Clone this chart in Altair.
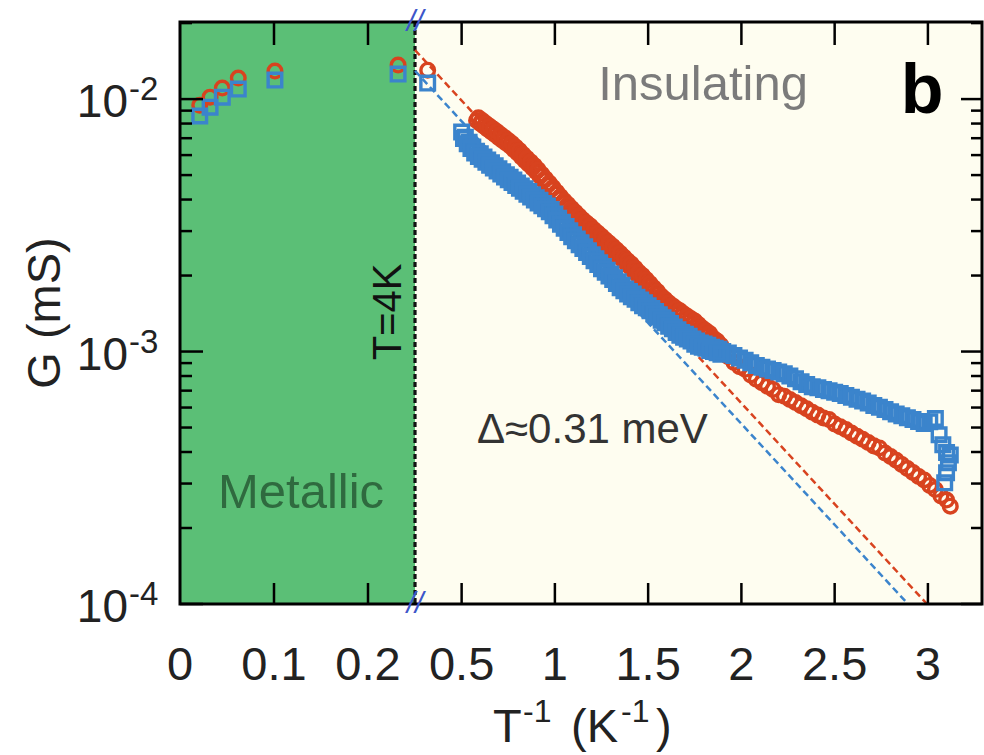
import altair as alt
import pandas as pd

# ---------------- data ----------------
# metallic regime (T > 4 K)
metal_x = [0.021, 0.032, 0.045, 0.062, 0.101, 0.232]
metal_red = [9.46e-3, 1.018e-2, 1.106e-2, 1.211e-2, 1.291e-2, 1.364e-2]
metal_blue = [8.57e-3, 9.29e-3, 1.018e-2, 1.096e-2, 1.189e-2, 1.256e-2]

# insulating regime, sample 1 (red circles), first sweep
red_x = [0.318,
         0.58, 0.60, 0.62, 0.64, 0.66, 0.68, 0.70, 0.72, 0.74, 0.76,
         0.78, 0.80, 0.82, 0.84, 0.86, 0.88, 0.90, 0.92, 0.94, 0.96,
         0.98, 1.00, 1.02, 1.04, 1.06, 1.08, 1.10, 1.12, 1.14, 1.16,
         1.18, 1.20, 1.22, 1.24, 1.26, 1.28, 1.30, 1.32, 1.34, 1.36,
         1.38, 1.40, 1.42, 1.44, 1.46, 1.48, 1.50, 1.52, 1.54, 1.56,
         1.58, 1.60, 1.62, 1.64, 1.66, 1.68, 1.70, 1.72, 1.74, 1.76,
         1.78, 1.80, 1.82, 1.84, 1.86, 1.88, 1.90,
         1.93, 1.96, 1.99, 2.02, 2.05, 2.08, 2.11, 2.14, 2.17, 2.20,
         2.23, 2.26, 2.29, 2.32, 2.35, 2.38, 2.41, 2.44, 2.47, 2.50,
         2.53, 2.56, 2.59, 2.62, 2.65, 2.68, 2.71, 2.74, 2.77, 2.80,
         2.83, 2.86, 2.89, 2.92, 2.95, 2.98, 3.01, 3.04, 3.07, 3.10, 3.12]
red_g = [1.302e-2,
         8.22e-3, 8.00e-3, 7.80e-3, 7.60e-3, 7.41e-3, 7.23e-3, 7.03e-3, 6.85e-3, 6.68e-3, 6.52e-3,
         6.31e-3, 6.11e-3, 5.90e-3, 5.70e-3, 5.52e-3, 5.33e-3, 5.15e-3, 4.95e-3, 4.75e-3, 4.56e-3,
         4.38e-3, 4.20e-3, 4.03e-3, 3.88e-3, 3.74e-3, 3.61e-3, 3.48e-3, 3.36e-3, 3.25e-3, 3.16e-3,
         3.06e-3, 2.97e-3, 2.88e-3, 2.79e-3, 2.71e-3, 2.62e-3, 2.55e-3, 2.47e-3, 2.39e-3, 2.32e-3,
         2.24e-3, 2.17e-3, 2.09e-3, 2.02e-3, 1.95e-3, 1.89e-3, 1.82e-3, 1.75e-3, 1.69e-3, 1.63e-3,
         1.57e-3, 1.52e-3, 1.48e-3, 1.44e-3, 1.41e-3, 1.38e-3, 1.34e-3, 1.31e-3, 1.28e-3, 1.25e-3,
         1.21e-3, 1.18e-3, 1.15e-3, 1.11e-3, 1.07e-3, 1.04e-3, 1.00e-3,
         9.53e-4, 9.06e-4, 8.71e-4, 8.50e-4, 8.07e-4, 7.76e-4, 7.52e-4, 7.29e-4, 7.08e-4, 6.75e-4,
         6.65e-4, 6.46e-4, 6.28e-4, 6.10e-4, 5.93e-4, 5.75e-4, 5.60e-4, 5.45e-4, 5.38e-4, 5.16e-4,
         5.04e-4, 4.91e-4, 4.76e-4, 4.62e-4, 4.49e-4, 4.36e-4, 4.23e-4, 4.15e-4, 3.96e-4, 3.84e-4,
         3.71e-4, 3.57e-4, 3.44e-4, 3.32e-4, 3.20e-4, 3.10e-4, 2.95e-4, 2.84e-4, 2.68e-4, 2.58e-4, 2.44e-4]

# sample 1, second sweep (upper edge of the dense band)
red2_x = [0.59, 0.61, 0.63, 0.65, 0.67, 0.69, 0.71, 0.73, 0.75, 0.77,
          0.79, 0.81, 0.83, 0.85, 0.87, 0.89, 0.91, 0.93, 0.95, 0.97,
          0.99, 1.01, 1.03, 1.05, 1.07, 1.09, 1.11, 1.13, 1.15, 1.17,
          1.19, 1.21, 1.23, 1.25, 1.27, 1.29, 1.31, 1.33, 1.35, 1.37,
          1.39, 1.41, 1.43, 1.45, 1.47, 1.49, 1.51, 1.53, 1.55, 1.57,
          1.59, 1.61, 1.63, 1.65, 1.67, 1.69, 1.71, 1.73, 1.75, 1.77,
          1.79, 1.81, 1.83, 1.85, 1.87, 1.89]
red2_g = [8.43e-3, 8.22e-3, 8.01e-3, 7.81e-3, 7.61e-3, 7.42e-3, 7.22e-3, 7.04e-3, 6.86e-3, 6.67e-3,
          6.46e-3, 6.25e-3, 6.03e-3, 5.83e-3, 5.64e-3, 5.45e-3, 5.25e-3, 5.04e-3, 4.84e-3, 4.65e-3,
          4.46e-3, 4.28e-3, 4.11e-3, 3.96e-3, 3.82e-3, 3.69e-3, 3.56e-3, 3.44e-3, 3.33e-3, 3.23e-3,
          3.14e-3, 3.04e-3, 2.95e-3, 2.86e-3, 2.77e-3, 2.69e-3, 2.61e-3, 2.53e-3, 2.45e-3, 2.37e-3,
          2.29e-3, 2.22e-3, 2.14e-3, 2.06e-3, 2.00e-3, 1.93e-3, 1.86e-3, 1.79e-3, 1.73e-3, 1.66e-3,
          1.61e-3, 1.56e-3, 1.52e-3, 1.48e-3, 1.45e-3, 1.41e-3, 1.38e-3, 1.35e-3, 1.32e-3, 1.28e-3,
          1.24e-3, 1.21e-3, 1.18e-3, 1.13e-3, 1.10e-3, 1.06e-3]

# insulating regime, sample 2 (blue squares), first sweep
blue_x = [0.318,
          0.50, 0.52, 0.54, 0.56, 0.58, 0.60, 0.62, 0.64, 0.66, 0.68,
          0.70, 0.72, 0.74, 0.76, 0.78, 0.80, 0.82, 0.84, 0.86, 0.88,
          0.90, 0.92, 0.94, 0.96, 0.98, 1.00, 1.02, 1.04, 1.06, 1.08,
          1.10, 1.12, 1.14, 1.16, 1.18, 1.20, 1.22, 1.24, 1.26, 1.28,
          1.30, 1.32, 1.34, 1.36, 1.38, 1.40, 1.42, 1.44, 1.46, 1.48,
          1.50, 1.52, 1.54, 1.56, 1.58, 1.60, 1.62, 1.64, 1.66, 1.68,
          1.70, 1.72, 1.74, 1.76, 1.78, 1.80, 1.82, 1.84, 1.86, 1.88, 1.90,
          1.93, 1.96, 1.99, 2.02, 2.05, 2.08, 2.11, 2.14, 2.17, 2.20,
          2.23, 2.26, 2.29, 2.32, 2.35, 2.38, 2.41, 2.44, 2.47, 2.50,
          2.53, 2.56, 2.59, 2.62, 2.65, 2.68, 2.71, 2.74, 2.77, 2.80,
          2.83, 2.86, 2.89, 2.92, 2.95, 2.98, 3.01, 3.04,
          3.06, 3.08, 3.10, 3.12, 3.11, 3.10, 3.09]
blue_g = [1.157e-2,
          7.40e-3, 7.06e-3, 6.75e-3, 6.46e-3, 6.22e-3, 6.07e-3, 5.90e-3, 5.74e-3, 5.60e-3, 5.45e-3,
          5.30e-3, 5.16e-3, 5.02e-3, 4.90e-3, 4.78e-3, 4.65e-3, 4.53e-3, 4.41e-3, 4.30e-3, 4.18e-3,
          4.07e-3, 3.97e-3, 3.86e-3, 3.77e-3, 3.65e-3, 3.51e-3, 3.37e-3, 3.25e-3, 3.13e-3, 3.01e-3,
          2.90e-3, 2.79e-3, 2.70e-3, 2.60e-3, 2.51e-3, 2.42e-3, 2.33e-3, 2.25e-3, 2.17e-3, 2.10e-3,
          2.03e-3, 1.96e-3, 1.89e-3, 1.83e-3, 1.77e-3, 1.73e-3, 1.69e-3, 1.64e-3, 1.60e-3, 1.56e-3,
          1.52e-3, 1.48e-3, 1.44e-3, 1.40e-3, 1.36e-3, 1.33e-3, 1.29e-3, 1.25e-3, 1.22e-3, 1.19e-3,
          1.17e-3, 1.15e-3, 1.12e-3, 1.10e-3, 1.08e-3, 1.07e-3, 1.06e-3, 1.04e-3, 1.03e-3, 1.02e-3, 1.00e-3,
          9.86e-4, 9.64e-4, 9.42e-4, 9.23e-4, 9.02e-4, 8.81e-4, 8.67e-4, 8.53e-4, 8.41e-4, 8.30e-4,
          8.17e-4, 8.00e-4, 7.80e-4, 7.60e-4, 7.41e-4, 7.26e-4, 7.18e-4, 7.08e-4, 7.00e-4, 6.90e-4,
          6.82e-4, 6.70e-4, 6.59e-4, 6.47e-4, 6.37e-4, 6.25e-4, 6.12e-4, 6.01e-4, 5.89e-4, 5.78e-4,
          5.66e-4, 5.57e-4, 5.47e-4, 5.38e-4, 5.28e-4, 5.19e-4, 5.27e-4, 5.43e-4,
          4.68e-4, 4.27e-4, 3.98e-4, 3.89e-4, 3.63e-4, 3.31e-4, 3.02e-4]

# sample 2, second sweep (lower edge of the dense band)
blue2_x = [0.51, 0.53, 0.55, 0.57, 0.59, 0.61, 0.63, 0.65, 0.67, 0.69,
           0.71, 0.73, 0.75, 0.77, 0.79, 0.81, 0.83, 0.85, 0.87, 0.89,
           0.91, 0.93, 0.95, 0.97, 0.99, 1.01, 1.03, 1.05, 1.07, 1.09,
           1.11, 1.13, 1.15, 1.17, 1.19, 1.21, 1.23, 1.25, 1.27, 1.29,
           1.31, 1.33, 1.35, 1.37, 1.39, 1.41, 1.43, 1.45, 1.47, 1.49,
           1.51, 1.53, 1.55, 1.57, 1.59, 1.61, 1.63, 1.65, 1.67, 1.69,
           1.71, 1.73, 1.75, 1.77, 1.79, 1.81, 1.83, 1.85, 1.87, 1.89]
blue2_g = [6.98e-3, 6.66e-3, 6.37e-3, 6.12e-3, 5.93e-3, 5.78e-3, 5.62e-3, 5.47e-3, 5.33e-3, 5.19e-3,
           5.05e-3, 4.91e-3, 4.79e-3, 4.67e-3, 4.55e-3, 4.43e-3, 4.31e-3, 4.20e-3, 4.09e-3, 3.98e-3,
           3.88e-3, 3.78e-3, 3.68e-3, 3.58e-3, 3.45e-3, 3.32e-3, 3.19e-3, 3.08e-3, 2.96e-3, 2.85e-3,
           2.75e-3, 2.65e-3, 2.56e-3, 2.47e-3, 2.38e-3, 2.29e-3, 2.21e-3, 2.13e-3, 2.06e-3, 1.99e-3,
           1.93e-3, 1.86e-3, 1.79e-3, 1.74e-3, 1.69e-3, 1.65e-3, 1.61e-3, 1.56e-3, 1.52e-3, 1.49e-3,
           1.45e-3, 1.41e-3, 1.37e-3, 1.33e-3, 1.30e-3, 1.26e-3, 1.23e-3, 1.19e-3, 1.16e-3, 1.14e-3,
           1.12e-3, 1.10e-3, 1.07e-3, 1.05e-3, 1.04e-3, 1.03e-3, 1.01e-3, 1.00e-3, 9.90e-4, 9.75e-4]

# activated-transport fits (end points of the dashed lines)
fit_red_x = [0.25, 2.995]
fit_red_g = [1.563e-2, 1.0e-4]
fit_blue_x = [0.25, 2.893]
fit_blue_g = [1.294e-2, 1.0e-4]

# regime boundaries on the T^-1 axis
metal_span = [0.0, 0.25]
insul_span = [0.25, 3.29]

# axis ticks
x_ticks = [0.0, 0.1, 0.2, 0.5, 1.0, 1.5, 2.0, 2.5, 3.0]
x_tick_text = ["0", "0.1", "0.2", "0.5", "1", "1.5", "2", "2.5", "3"]
y_major = [1e-4, 1e-3, 1e-2]
y_major_exp = ["-4", "-3", "-2"]
y_minor = [2e-4, 3e-4, 4e-4, 5e-4, 6e-4, 7e-4, 8e-4, 9e-4,
           2e-3, 3e-3, 4e-3, 5e-3, 6e-3, 7e-3, 8e-3, 9e-3, 2e-2]

assert len(red_x) == len(red_g) and len(blue_x) == len(blue_g)
assert len(red2_x) == len(red2_g) and len(blue2_x) == len(blue2_g)

# ---------------- styling ----------------
W, H = 802, 582
FONT = "Liberation Sans"
RED = "#d8431f"
BLUE = "#3b84cc"
GREEN = "#5bbf76"
CREAM = "#fefdf0"
MARK_SIZE = 185
MARK_STROKE = 3.4

# broken x axis: 0-0.25 stretched, 0.25-3.29 compressed
xs = alt.Scale(domain=[0.0, 0.25, 3.29], range=[0, 235, W], nice=False, zero=False)
ys = alt.Scale(type="log", domain=[1e-4, 0.0202], nice=False)


def X(field="x"):
    return alt.X(f"{field}:Q", scale=xs, axis=None)


def Y(field="g"):
    return alt.Y(f"{field}:Q", scale=ys, axis=None)


def label(s, x, y, size, color="black", align="left", angle=0, weight="normal"):
    return alt.Chart(pd.DataFrame({"s": [s]})).mark_text(
        x=x, y=y, fontSize=size, font=FONT, color=color, align=align,
        baseline="alphabetic", angle=angle, fontWeight=weight
    ).encode(text="s:N")


def points(xv, gv, shape, color):
    return alt.Chart(pd.DataFrame({"x": xv, "g": gv})).mark_point(
        shape=shape, filled=False, color=color, size=MARK_SIZE,
        strokeWidth=MARK_STROKE, opacity=1).encode(x=X(), y=Y())


# ---------------- layers ----------------
bg_metal = alt.Chart(pd.DataFrame({"x": [metal_span[0]], "x2": [metal_span[1]]})).mark_rect(
    color=GREEN).encode(x=X(), x2="x2:Q", y=alt.value(0), y2=alt.value(H))
bg_insul = alt.Chart(pd.DataFrame({"x": [insul_span[0]], "x2": [insul_span[1]]})).mark_rect(
    color=CREAM).encode(x=X(), x2="x2:Q", y=alt.value(0), y2=alt.value(H))

boundary = alt.Chart(pd.DataFrame({"x": [metal_span[1]]})).mark_rule(
    color="#111111", strokeWidth=3.2, strokeDash=[5, 3]).encode(x=X(), y=alt.value(0), y2=alt.value(H))

fit_red = alt.Chart(pd.DataFrame({"x": fit_red_x, "g": fit_red_g})).mark_line(
    color=RED, strokeWidth=2.5, strokeDash=[7, 4]).encode(x=X(), y=Y())
fit_blue = alt.Chart(pd.DataFrame({"x": fit_blue_x, "g": fit_blue_g})).mark_line(
    color=BLUE, strokeWidth=2.5, strokeDash=[7, 4]).encode(x=X(), y=Y())

pts_red = points(metal_x + red_x, metal_red + red_g, "circle", RED)
pts_red2 = points(red2_x, red2_g, "circle", RED)
pts_blue = points(metal_x + blue_x, metal_blue + blue_g, "square", BLUE)
pts_blue2 = points(blue2_x, blue2_g, "square", BLUE)

# inward ticks on all four sides
xt = pd.DataFrame({"x": x_ticks[1:]})
ticks_bottom = alt.Chart(xt).mark_rule(color="black", strokeWidth=2.5).encode(
    x=X(), y=alt.value(H), y2=alt.value(H - 21))
ticks_top = alt.Chart(xt).mark_rule(color="black", strokeWidth=2.5).encode(
    x=X(), y=alt.value(0), y2=alt.value(23))
ym = pd.DataFrame({"g": y_major, "e": y_major_exp})
yn = pd.DataFrame({"g": y_minor})
ticks_left_major = alt.Chart(ym).mark_rule(color="black", strokeWidth=2.5).encode(
    y=Y(), x=alt.value(0), x2=alt.value(23))
ticks_left_minor = alt.Chart(yn).mark_rule(color="black", strokeWidth=2.5).encode(
    y=Y(), x=alt.value(0), x2=alt.value(12))
ticks_right_major = alt.Chart(ym).mark_rule(color="black", strokeWidth=2.5).encode(
    y=Y(), x=alt.value(W - 21), x2=alt.value(W))
ticks_right_minor = alt.Chart(yn).mark_rule(color="black", strokeWidth=2.5).encode(
    y=Y(), x=alt.value(W - 11), x2=alt.value(W))

frame = alt.Chart(pd.DataFrame({"a": [0]})).mark_rect(
    fillOpacity=0, stroke="black", strokeWidth=3).encode(
    x=alt.value(0), x2=alt.value(W), y=alt.value(0), y2=alt.value(H))

# axis-break marks
breaks = alt.Chart(pd.DataFrame({"x": [0.25, 0.25], "yp": [0, H], "s": ["//", "//"]})).mark_text(
    fontSize=30, font=FONT, color="#3d56c9", baseline="middle", align="center",
    fontStyle="italic").encode(
    x=X(), y=alt.Y("yp:Q", scale=None, axis=None), text="s:N")

# tick labels
x_labels = alt.Chart(pd.DataFrame({"x": x_ticks, "t": x_tick_text})).mark_text(
    fontSize=47, font=FONT, color="#222222", align="center", baseline="alphabetic").encode(
    x=X(), y=alt.value(658), text="t:N")
y_lab_base = alt.Chart(ym).mark_text(
    fontSize=46, font=FONT, color="#222222", align="right", baseline="alphabetic", dy=18).encode(
    y=Y(), x=alt.value(-52), text=alt.value("10"))
y_lab_exp = alt.Chart(ym).mark_text(
    fontSize=33, font=FONT, color="#222222", align="left", baseline="alphabetic", dy=1).encode(
    y=Y(), x=alt.value(-51), text="e:N")

layers = [
    bg_metal, bg_insul, boundary, fit_red, fit_blue,
    pts_red, pts_red2, pts_blue, pts_blue2,
    ticks_bottom, ticks_top, ticks_left_major, ticks_left_minor,
    ticks_right_major, ticks_right_minor, frame, breaks,
    x_labels, y_lab_base, y_lab_exp,
    # axis titles
    label("G (mS)", -120, 291, 47, color="#222222", align="center", angle=270),
    label("T", 313, 720, 47, color="#222222"),
    label("-1", 343, 700, 32, color="#222222"),
    label("(K", 391, 720, 47, color="#222222"),
    label("-1", 441, 700, 32, color="#222222"),
    label(")", 476, 720, 47, color="#222222"),
    # annotations
    label("Metallic", 121, 486, 49, color="#2f6a3f", align="center"),
    label("Insulating", 523, 78, 49, color="#7b7b7b", align="center"),
    label("b", 742, 91, 70, color="black", align="center", weight="bold"),
    label("T=4K", 221, 290, 40, color="#111111", align="center", angle=270),
    label("\u0394\u22480.31 meV", 297, 421, 42, color="#333333"),
]

chart = alt.layer(*layers).properties(
    width=W, height=H,
    autosize=alt.AutoSizeParams(type="none"),
    padding={"left": 180, "top": 22, "right": 2, "bottom": 151},
    background="white",
).configure_view(stroke=None)

chart.save("out.html", embed_options={"renderer": "svg", "actions": False})
